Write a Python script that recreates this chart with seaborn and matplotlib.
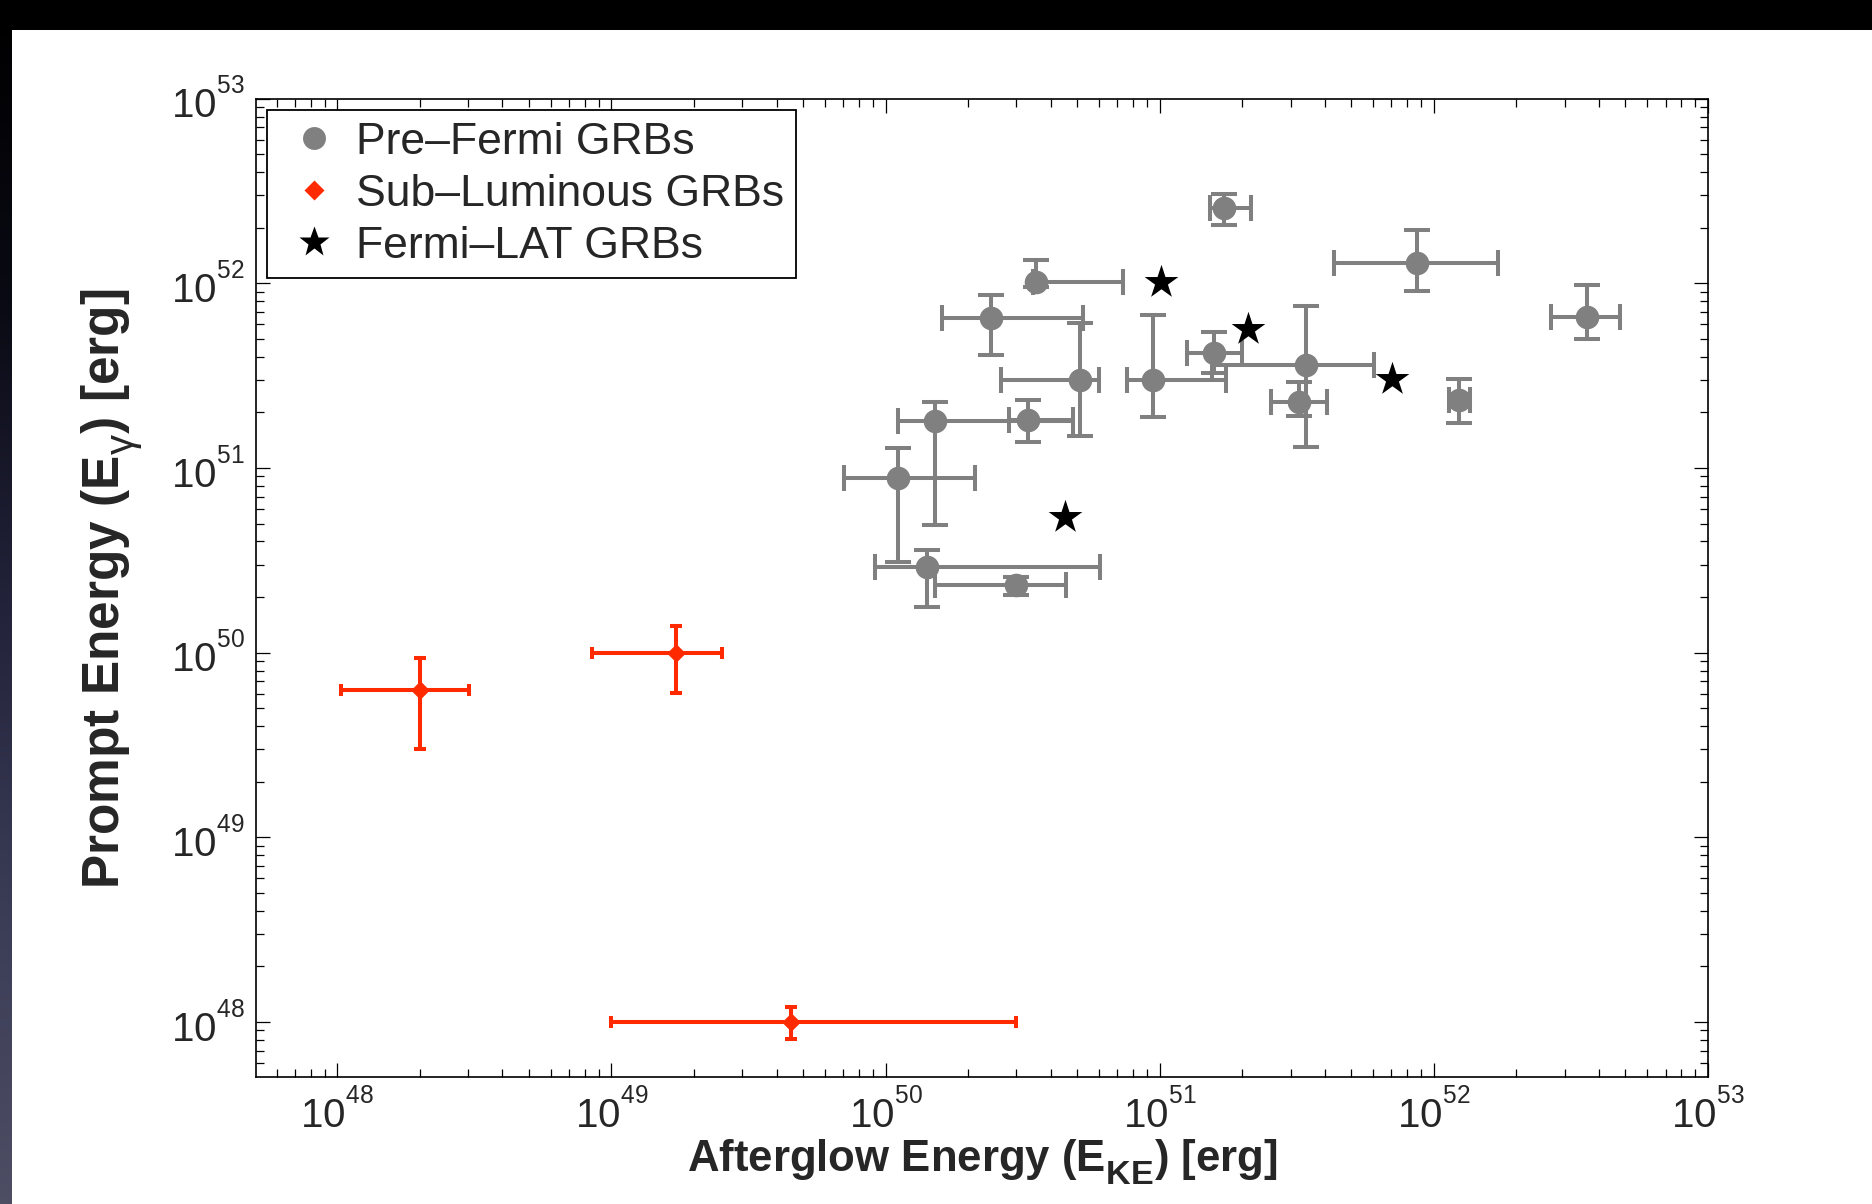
import numpy as np
import matplotlib
matplotlib.use("Agg")
import matplotlib.pyplot as plt
import matplotlib._mathtext as _mt
from matplotlib.lines import Line2D
from matplotlib.patches import Rectangle
from matplotlib.colors import LinearSegmentedColormap
from matplotlib.ticker import LogLocator, NullFormatter, FuncFormatter
import seaborn as sns

# ---------------------------------------------------------------------------
# Data: afterglow (kinetic) energy E_KE and prompt energy E_gamma, in erg,
# with the lower / upper ends of each error bar.
# ---------------------------------------------------------------------------
pre_ek    = [1.71e51, 8.69e51, 3.62e52, 3.54e50, 2.42e50, 5.13e50, 9.46e50, 1.58e51,
             3.43e51, 3.23e51, 1.24e52, 1.51e50, 3.32e50, 1.11e50, 1.41e50, 3.00e50]
pre_ek_lo = [1.53e51, 4.31e51, 2.67e52, 3.45e50, 1.61e50, 2.64e50, 7.60e50, 1.26e51,
             1.55e51, 2.54e51, 1.14e52, 1.11e50, 2.83e50, 7.06e49, 9.12e49, 1.51e50]
pre_ek_hi = [2.15e51, 1.71e52, 4.76e52, 7.36e50, 5.25e50, 5.98e50, 1.74e51, 2.00e51,
             6.05e51, 4.07e51, 1.35e52, 4.82e50, 4.82e50, 2.12e50, 6.07e50, 4.55e50]
pre_eg    = [2.55e52, 1.29e52, 6.59e51, 1.02e52, 6.46e51, 2.99e51, 2.99e51, 4.18e51,
             3.61e51, 2.28e51, 2.33e51, 1.80e51, 1.82e51, 8.78e50, 2.92e50, 2.32e50]
pre_eg_lo = [2.07e52, 9.10e51, 5.00e51, 9.60e51, 4.07e51, 1.49e51, 1.88e51, 3.25e51,
             1.30e51, 1.91e51, 1.75e51, 4.91e50, 1.38e51, 3.10e50, 1.76e50, 2.05e50]
pre_eg_hi = [3.05e52, 1.94e52, 9.75e51, 1.34e52, 8.64e51, 6.12e51, 6.73e51, 5.43e51,
             7.56e51, 2.93e51, 3.03e51, 2.28e51, 2.33e51, 1.28e51, 3.59e50, 2.58e50]

sub_ek    = [2.01e48, 1.72e49, 4.50e49]
sub_ek_lo = [1.03e48, 8.50e48, 1.00e49]
sub_ek_hi = [3.03e48, 2.52e49, 3.00e50]
sub_eg    = [6.25e49, 1.00e50, 1.00e48]
sub_eg_lo = [3.01e49, 6.08e49, 8.10e47]
sub_eg_hi = [9.35e49, 1.40e50, 1.21e48]

lat_ek = [1.01e51, 2.10e51, 7.03e51, 4.52e50]
lat_eg = [1.02e52, 5.63e51, 3.02e51, 5.44e50]

axis_ticks = [1e48, 1e49, 1e50, 1e51, 1e52, 1e53]
axis_limits = (5.05e47, 1e53)
legend_labels = ["Pre\u2013Fermi GRBs", "Sub\u2013Luminous GRBs", "Fermi\u2013LAT GRBs"]

GRAY = "#808080"
RED = "#ff2a00"

# ---------------------------------------------------------------------------
sns.set_style("ticks")
plt.rcParams["font.family"] = ["Liberation Sans", "DejaVu Sans"]
plt.rcParams["mathtext.fontset"] = "custom"
plt.rcParams["mathtext.rm"] = "Liberation Sans"
plt.rcParams["mathtext.it"] = "Liberation Sans:italic"
plt.rcParams["mathtext.bf"] = "Liberation Sans:bold"
# script sizing / offsets: larger, lower subscripts; small, high exponents
_mt.SHRINK_FACTOR = 0.78
_mt.FontConstantsBase.sub1 = 0.55
_mt.FontConstantsBase.sup1 = 0.62

W, H = 1872, 1204
fig = plt.figure(figsize=(W / 100, H / 100), dpi=100, facecolor="white")

# dark slide border: black strip on top, dark gradient strip on the left
band_left = 12 / W
band_top = 30 / H
fig.add_artist(Rectangle((0, 1 - band_top), 1, band_top, transform=fig.transFigure,
                         facecolor="black", edgecolor="none", zorder=-10))
bg = fig.add_axes([0, 0, band_left, 1], zorder=-9)
slide_cmap = LinearSegmentedColormap.from_list(
    "slide", ["#000000", "#0a0a14", "#22233a", "#3a3b55", "#4d4e64"])
bg.imshow(np.linspace(0, 1, 256)[:, None], cmap=slide_cmap, aspect="auto",
          origin="upper", interpolation="bilinear")
bg.set_axis_off()

ax = fig.add_axes([256 / W, 1 - 1076.7 / H, (1708 - 256) / W, (1076.7 - 98.7) / H])
ax.set_xscale("log")
ax.set_yscale("log")


def asym(center, lo, hi):
    c = np.asarray(center)
    return [c - np.asarray(lo), np.asarray(hi) - c]


# error bars
ax.errorbar(pre_ek, pre_eg, xerr=asym(pre_ek, pre_ek_lo, pre_ek_hi),
            yerr=asym(pre_eg, pre_eg_lo, pre_eg_hi), fmt="none", ecolor=GRAY,
            elinewidth=2.9, capsize=9.7, capthick=2.9, zorder=2)
ax.errorbar(sub_ek, sub_eg, xerr=asym(sub_ek, sub_ek_lo, sub_ek_hi),
            yerr=asym(sub_eg, sub_eg_lo, sub_eg_hi), fmt="none", ecolor=RED,
            elinewidth=2.9, capsize=4.3, capthick=2.9, zorder=2)

# markers
sns.scatterplot(x=pre_ek, y=pre_eg, ax=ax, marker="o", s=17 ** 2, color=GRAY,
                linewidth=0, zorder=3, legend=False)
sns.scatterplot(x=sub_ek, y=sub_eg, ax=ax, marker="D", s=9.5 ** 2, color=RED,
                linewidth=0, zorder=3, legend=False)
sns.scatterplot(x=lat_ek, y=lat_eg, ax=ax, marker="*", s=25.5 ** 2, color="black",
                linewidth=0, zorder=4, legend=False)

# axes
ax.set_xlim(*axis_limits)
ax.set_ylim(*axis_limits)
fmt = FuncFormatter(
    lambda v, pos: r"$\mathregular{10^{{}^{%d}}}$" % int(round(np.log10(v))))
for axis in (ax.xaxis, ax.yaxis):
    axis.set_major_locator(plt.FixedLocator(axis_ticks))
    axis.set_minor_locator(LogLocator(base=10, subs=np.arange(2, 10), numticks=20))
    axis.set_major_formatter(fmt)
    axis.set_minor_formatter(NullFormatter())

ax.tick_params(which="both", direction="in", top=True, right=True, color="black",
               width=0.9)
ax.tick_params(which="major", length=10, labelsize=29)
ax.tick_params(which="minor", length=5.5)
ax.tick_params(axis="x", which="major", pad=9)
ax.tick_params(axis="y", which="major", pad=8)
for sp in ax.spines.values():
    sp.set_color("black")
    sp.set_linewidth(1.2)

ax.set_xlabel(r"Afterglow Energy (E$_{\mathbf{KE}}$) [erg]", fontsize=31.5,
              fontweight="bold")
ax.set_ylabel(r"Prompt Energy (E$_{\mathrm{\gamma}}$) [erg]", fontsize=37,
              fontweight="bold")
ax.xaxis.set_label_coords(0.5, -0.062)
ax.yaxis.set_label_coords(-0.077, 0.499)

handles = [
    Line2D([], [], ls="none", marker="o", ms=16.5, color=GRAY, mec="none"),
    Line2D([], [], ls="none", marker="D", ms=9.8, color=RED, mec="none"),
    Line2D([], [], ls="none", marker="*", ms=23, color="black", mec="none"),
]
leg = ax.legend(handles, legend_labels, loc="upper left",
                bbox_to_anchor=(11 / 1452, 1 - 11.3 / 978), borderaxespad=0,
                frameon=True, fancybox=False, framealpha=1, edgecolor="black",
                fontsize=32, borderpad=0.26, handlelength=1.6, handletextpad=0.15,
                labelspacing=0.25)
leg.get_frame().set_linewidth(1.3)

fig.savefig("out.png", dpi=100, facecolor=fig.get_facecolor())
